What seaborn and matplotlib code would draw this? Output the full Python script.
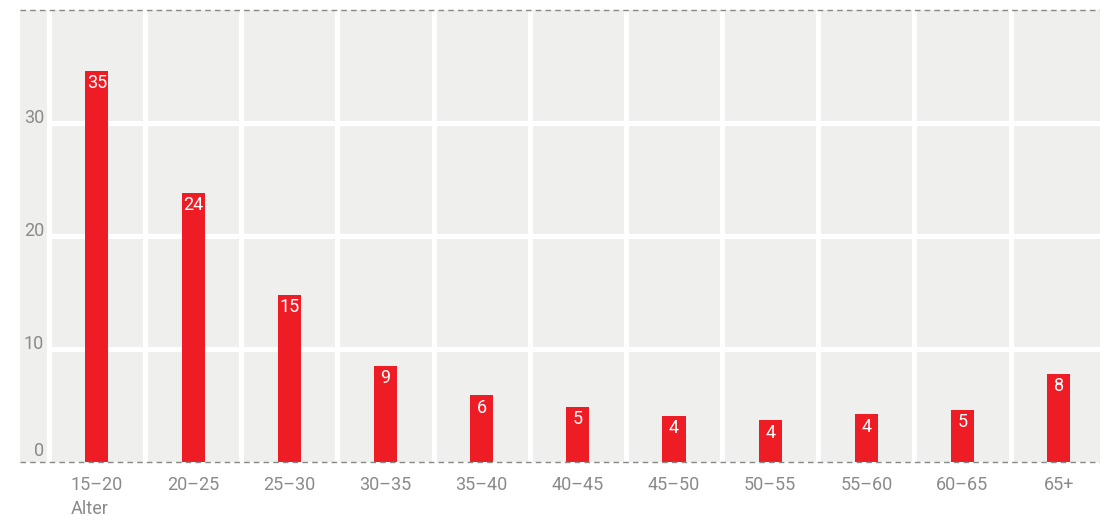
import pandas as pd
import matplotlib.pyplot as plt
import seaborn as sns
from matplotlib.transforms import blended_transform_factory

# age groups and share (in %)
age_groups = ["15–20", "20–25", "25–30", "30–35", "35–40", "40–45",
              "45–50", "50–55", "55–60", "60–65", "65+"]
shares = [34.6, 23.8, 14.8, 8.5, 5.9, 4.9, 4.1, 3.7, 4.2, 4.6, 7.8]
value_labels = ["35", "24", "15", "9", "6", "5", "4", "4", "4", "5", "8"]
y_ticks = [0, 10, 20, 30]

df = pd.DataFrame({"age": age_groups, "share": shares})

sns.set_style("white")
plt.rcParams["font.family"] = ["Roboto", "DejaVu Sans"]

fig = plt.figure(figsize=(11, 5.16), dpi=100)
ax = fig.add_axes([20 / 1100, 1 - 462 / 516, 1080 / 1100, (462 - 9.5) / 516])
ax.set_facecolor("#efefed")

sns.barplot(data=df, x="age", y="share", color="#ee1c25", width=0.24,
            saturation=1, linewidth=0, ax=ax, zorder=3)

xmin, xmax = -0.8, 10.43
ax.set_xlim(xmin, xmax)
ax.set_ylim(0, 40)

# white grid: vertical separators between categories, horizontal at ticks
for k in range(len(age_groups)):
    ax.axvline(k - 0.5, color="white", lw=3.6, zorder=1)
for t in y_ticks[1:]:
    ax.hlines(t, -0.5, xmax, color="white", lw=3.6, zorder=1)

# dashed top and bottom lines
for t in (0, 40):
    ax.axhline(t, color="#888888", lw=1, ls=(0, (4, 3)), zorder=4, clip_on=False)

# y tick labels sitting on the grid lines
for t in y_ticks:
    ax.text(-0.55, max(t, 0.5), str(t), ha="right", va="baseline",
            color="#8a8a8a", fontsize=13, zorder=5)

# value labels inside bars
for i, (v, lab) in enumerate(zip(shares, value_labels)):
    ax.text(i, v - 0.3, lab, ha="center", va="top",
            color="white", fontsize=13, zorder=5)

ax.set_yticks([])
ax.set_xticks(range(len(age_groups)))
ax.set_xticklabels(age_groups, color="#8a8a8a", fontsize=13)
ax.tick_params(axis="x", length=0, pad=10)
ax.set_xlabel("")
ax.set_ylabel("")
for s in ax.spines.values():
    s.set_visible(False)

trans = blended_transform_factory(ax.transData, ax.transAxes)
ax.text(-0.27, -0.083, "Alter", transform=trans, ha="left", va="top",
        color="#8a8a8a", fontsize=13)

fig.savefig("out.png", dpi=100)
